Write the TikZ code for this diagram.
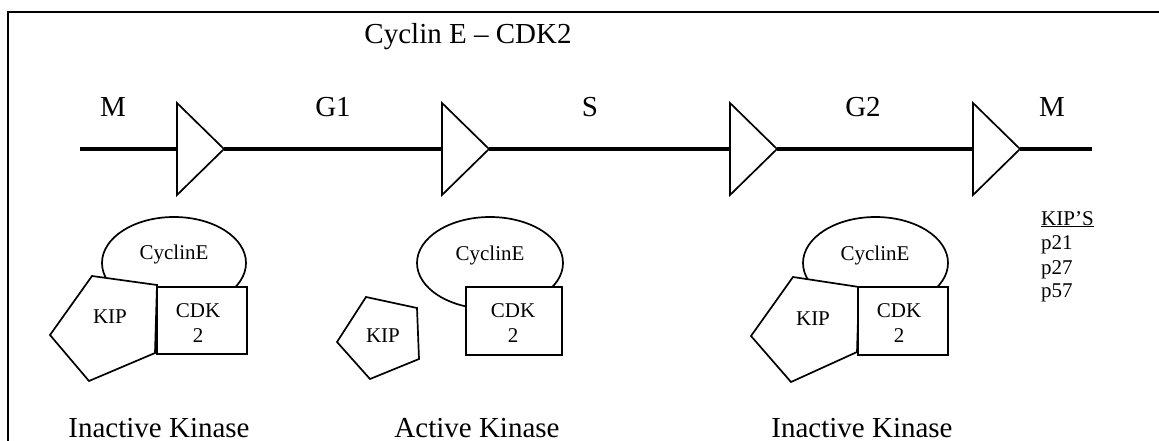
\documentclass[tikz,border=0pt]{standalone}
\usepackage{fontspec}
\setmainfont{Liberation Serif}
\usetikzlibrary{shapes.geometric}
\begin{document}
\begin{tikzpicture}[x=1pt,y=-1pt,
  big/.style={font=\fontsize{29}{34}\selectfont, inner sep=0pt, anchor=base},
  small/.style={font=\fontsize{21}{24}\selectfont, inner sep=0pt, anchor=base},
  outline/.style={line width=1.7pt, line join=miter},
  cycleline/.style={line width=3.8pt},
  gate/.style={outline, draw, fill=white},
  cyclin/.style={outline, draw, fill=white, ellipse, inner sep=0pt},
  cdk/.style={outline, draw, fill=white, rectangle, inner sep=0pt},
]
\useasboundingbox (0,0) rectangle (1159,441);

% frame
\draw[line width=1.6pt] (8,441) -- (8,12) -- (1159,12);

% title
\node[big] (title) at (468,44) {Cyclin E – CDK2};

% cell-cycle axis with checkpoint triangles
\coordinate (start) at (80,149);
\coordinate (end) at (1092,149);
\foreach \n/\x in {1/177,2/442,3/730,4/973} {
  \coordinate (in\n) at (\x,149);
  \coordinate (out\n) at (\x+47,149);
}
\draw[cycleline] (start) -- (in1) (out1) -- (in2) (out2) -- (in3)
  (out3) -- (in4) (out4) -- (end);
\foreach \n in {1,2,3,4} {
  \draw[gate] (in\n) ++(0,-46) -- (out\n) -- ++(-47,46) -- cycle;
}

% phase labels
\node[big] (pM1) at (113,117) {M};
\node[big] (pG1) at (333,117) {G1};
\node[big] (pS)  at (590,117) {S};
\node[big] (pG2) at (863,117) {G2};
\node[big] (pM2) at (1052,117) {M};

% complex 1: inactive kinase
\node[cyclin, minimum width=144, minimum height=92] (cyc1) at (174,263) {};
\draw[gate] (92,276) -- (157,285) -- (155,353) -- (89,381) -- (50,335) -- cycle;
\node[cdk, minimum width=90, minimum height=67] (cdk1) at (202,320.5) {};
\node[small] (cyct1) at (174,259) {CyclinE};
\node[small] (kip1) at (110,323) {KIP};
\node[small] (cdkt1) at (198,317) {CDK};
\node[small] (cdkn1) at (198,342) {2};
\node[big] (lab1) at (159,437) {Inactive Kinase};

% complex 2: active kinase, KIP released
\node[cyclin, minimum width=146, minimum height=92] (cyc2) at (490,263) {};
\node[cdk, minimum width=96, minimum height=68] (cdk2) at (514,321) {};
\draw[gate] (366,297) -- (417,308) -- (419,359) -- (370,379) -- (337,342) -- cycle;
\node[small] (cyct2) at (490,260) {CyclinE};
\node[small] (kip2) at (383,342) {KIP};
\node[small] (cdkt2) at (513,317) {CDK};
\node[small] (cdkn2) at (513,342) {2};
\node[big] (lab2) at (477,437) {Active Kinase};

% complex 3: inactive kinase
\node[cyclin, minimum width=145, minimum height=92] (cyc3) at (875.5,263) {};
\draw[gate] (793,277) -- (859,287) -- (857,352) -- (791,382) -- (751,336) -- cycle;
\node[cdk, minimum width=90, minimum height=68] (cdk3) at (903,321) {};
\node[small] (cyct3) at (875,260) {CyclinE};
\node[small] (kip3) at (813,325) {KIP};
\node[small] (cdkt3) at (899,317) {CDK};
\node[small] (cdkn3) at (899,342) {2};
\node[big] (lab3) at (862,437) {Inactive Kinase};

% list of KIP inhibitors
\node[small, anchor=base west] (kiph) at (1041,225) {\underline{KIP’S}};
\node[small, anchor=base west] (p21) at (1041,249) {p21};
\node[small, anchor=base west] (p27) at (1041,274) {p27};
\node[small, anchor=base west] (p57) at (1041,297) {p57};
\end{tikzpicture}
\end{document}
